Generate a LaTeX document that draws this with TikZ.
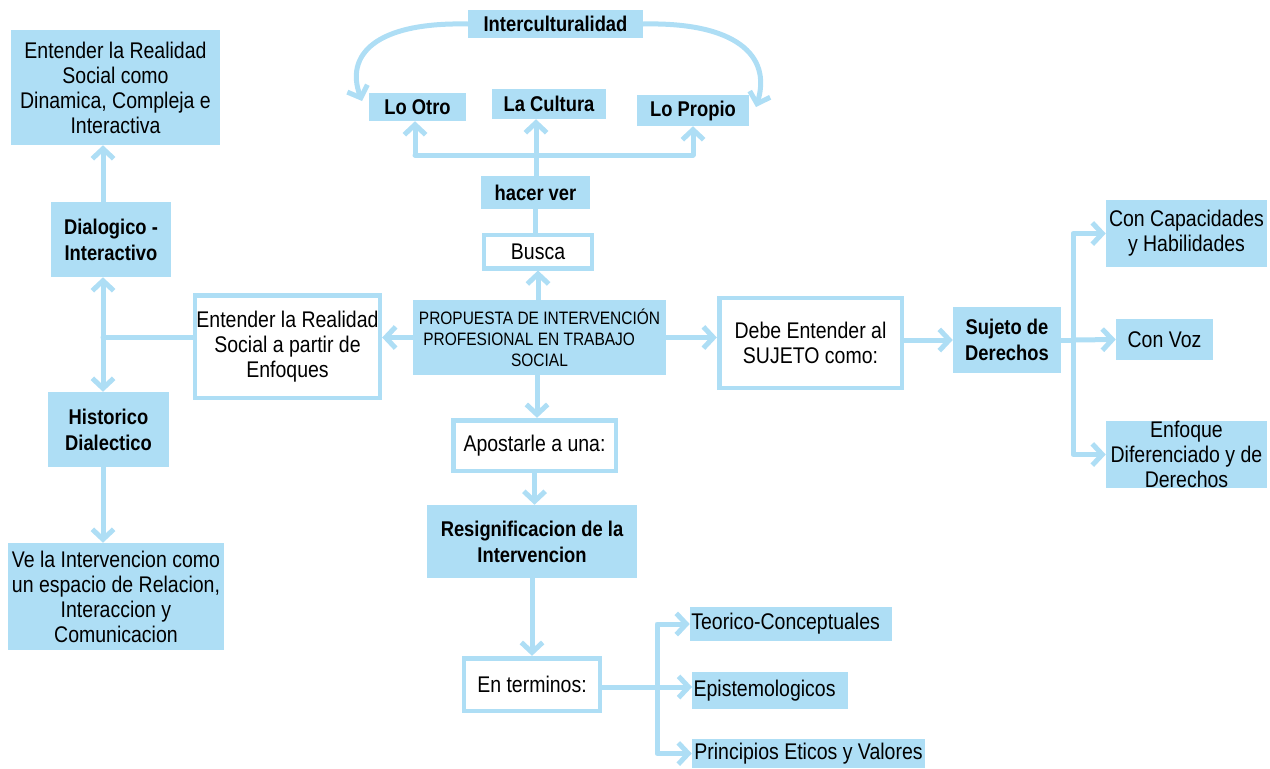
\documentclass[tikz,border=0pt]{standalone}
\usepackage{fontspec}
\setmainfont{Liberation Sans}[FakeStretch=0.86]
\usetikzlibrary{arrows.meta}
\definecolor{blu}{RGB}{174,222,245}
\newcommand{\regf}{\fontsize{17}{18.75}\selectfont}
\newcommand{\boldf}{\fontsize{16}{19.5}\selectfont\bfseries}
\newcommand{\smallf}{\fontsize{13.5}{15.75}\selectfont}
\begin{document}
\begin{tikzpicture}[x=0.75pt,y=-0.75pt,
  fbox/.style={fill=blu, draw=none, inner sep=1pt, align=center, font=\regf, text=black},
  bbox/.style={fbox, font=\boldf},
  wbox/.style={fill=white, draw=blu, line width=3.5pt, inner sep=1pt, align=center, font=\regf, text=black},
  conn/.style={draw=blu, line width=3.75pt, line cap=round, line join=round},
  arr/.style={conn, -{Straight Barb[length=7.5pt,width=16pt]}}]
\useasboundingbox (0,0) rectangle (1270,768);
% nodes
\node[bbox, minimum width=131.25pt, minimum height=21pt] (ic) at (555.5,24) {Interculturalidad};
\node[bbox, minimum width=72.75pt, minimum height=21pt] (lo) at (417.5,107) {Lo Otro};
\node[bbox, minimum width=85.5pt, minimum height=22.5pt] (lc) at (549,104) {La Cultura};
\node[bbox, minimum width=84pt, minimum height=23.25pt] (lp) at (693,110.5) {Lo Propio};
\node[bbox, minimum width=81.75pt, minimum height=24.75pt] (hv) at (535.5,192.5) {hacer ver};
\node[wbox, minimum width=81pt, minimum height=25pt] (busca) at (538,251.5) {Busca};
\node[fbox, font=\smallf, minimum width=189.75pt, minimum height=56.25pt] (prop) at (539.5,337.5)
  {PROPUESTA DE INTERVENCIÓN\\PROFESIONAL EN TRABAJO\hphantom{AB}\\SOCIAL};
\node[wbox, minimum width=138.5pt, minimum height=77pt] (enf) at (287.5,346.5)
  {Entender la Realidad\\Social a partir de\\Enfoques};
\node[wbox, minimum width=137pt, minimum height=67.5pt] (deb) at (810.5,343)
  {Debe Entender al\\SUJETO como:};
\node[bbox, minimum width=81pt, minimum height=49.5pt] (suj) at (1007,340) {Sujeto de\\Derechos};
\node[fbox, minimum width=120.75pt, minimum height=50.25pt] (cap) at (1186.5,233.5) {Con Capacidades\\y Habilidades};
\node[fbox, minimum width=72.75pt, minimum height=30.75pt] (voz) at (1164.5,339.5) {Con Voz};
\node[fbox, minimum width=120.75pt, minimum height=50.25pt, inner sep=0pt] (efd) at (1186.5,454.5) {Enfoque\\Diferenciado y de\\Derechos};
\node[wbox, minimum width=122pt, minimum height=38pt] (apo) at (534.5,445.5) {Apostarle a una:};
\node[bbox, minimum width=157.5pt, minimum height=54.75pt] (res) at (532,541.5) {Resignificacion de la\\Intervencion};
\node[wbox, minimum width=102pt, minimum height=39.5pt] (ent) at (532,684.5) {En terminos:};
\node[fbox, minimum width=145.5pt, minimum height=25.5pt] (teo) at (791,624) {Teorico-Conceptuales\hphantom{n}};
\node[fbox, minimum width=114pt, minimum height=27.75pt] (epi) at (770,690.5) {Epistemologicos\hphantom{n}};
\node[fbox, minimum width=174.75pt, minimum height=21.75pt] (pri) at (808.5,753.5) {Principios Eticos y Valores};
\node[fbox, minimum width=156.75pt, minimum height=86.25pt] (din) at (115.5,87.5)
  {Entender la Realidad\\Social como\\Dinamica, Compleja e\\Interactiva};
\node[bbox, minimum width=90pt, minimum height=56.25pt] (dia) at (111,239.5) {Dialogico -\\Interactivo};
\node[bbox, minimum width=90.75pt, minimum height=56.25pt] (his) at (108.5,429.5) {Historico\\Dialectico};
\node[fbox, minimum width=162pt, minimum height=80.25pt] (ve) at (116,596.5)
  {Ve la Intervencion como\\un espacio de Relacion,\\Interaccion y\\Comunicacion};
% junction coordinates
\coordinate (jt) at (536,155);
\coordinate (jl) at (103,337);
\coordinate (jr) at (1073,340);
\coordinate (jb) at (657,687);
\coordinate (cl) at (362,101);
\coordinate (cr) at (756,107);
% top loop
\draw[arr] (ic.west) .. controls (375,22) and (345,55) .. (cl);
\draw[arr] (ic.east) .. controls (735,22) and (772,55) .. (cr);
% hacer ver fork
\draw[conn] (busca.north -| hv.north) -- (hv.south);
\draw[conn] (hv.north -| jt) -- (jt);
\draw[conn] (jt -| 415,0) -- (jt -| lp.south);
\draw[arr] (jt -| 415,0) -- (lo.south -| 415,0);
\draw[arr] (jt) -- (lc.south -| jt);
\draw[arr] (jt -| lp.south) -- (lp.south);
% central
\draw[arr] (prop.north -| busca.south) -- (busca.south);
\draw[arr] (prop.west) -- (prop.west -| enf.east);
\draw[arr] (prop.east) -- (prop.east -| deb.west);
\draw[arr] (prop.south -| 537,0) -- (apo.north -| 537,0);
\draw[arr] (apo.south) -- (apo.south |- res.north);
\draw[arr] (res.south -| ent.north) -- (ent.north);
% left
\draw[conn] (enf.west |- jl) -- (jl);
\draw[arr] (jl) -- (jl |- dia.south);
\draw[arr] (jl) -- (jl |- his.north);
\draw[arr] (jl |- dia.north) -- (jl |- din.south);
\draw[arr] (jl |- his.south) -- (jl |- ve.north);
% right
\draw[arr] (deb.east |- suj.west) -- (suj.west);
\draw[conn] (suj.east) -- (jr);
\draw[arr] (jr) -- (voz.west);
\draw[arr] (jr) |- (cap.west);
\draw[arr] (jr) |- (efd.west);
% bottom
\draw[conn] (ent.east |- jb) -- (jb);
\draw[arr] (jb) -- (jb -| epi.west);
\draw[arr] (jb) |- (teo.west);
\draw[arr] (jb) |- (pri.west);
\end{tikzpicture}
\end{document}
